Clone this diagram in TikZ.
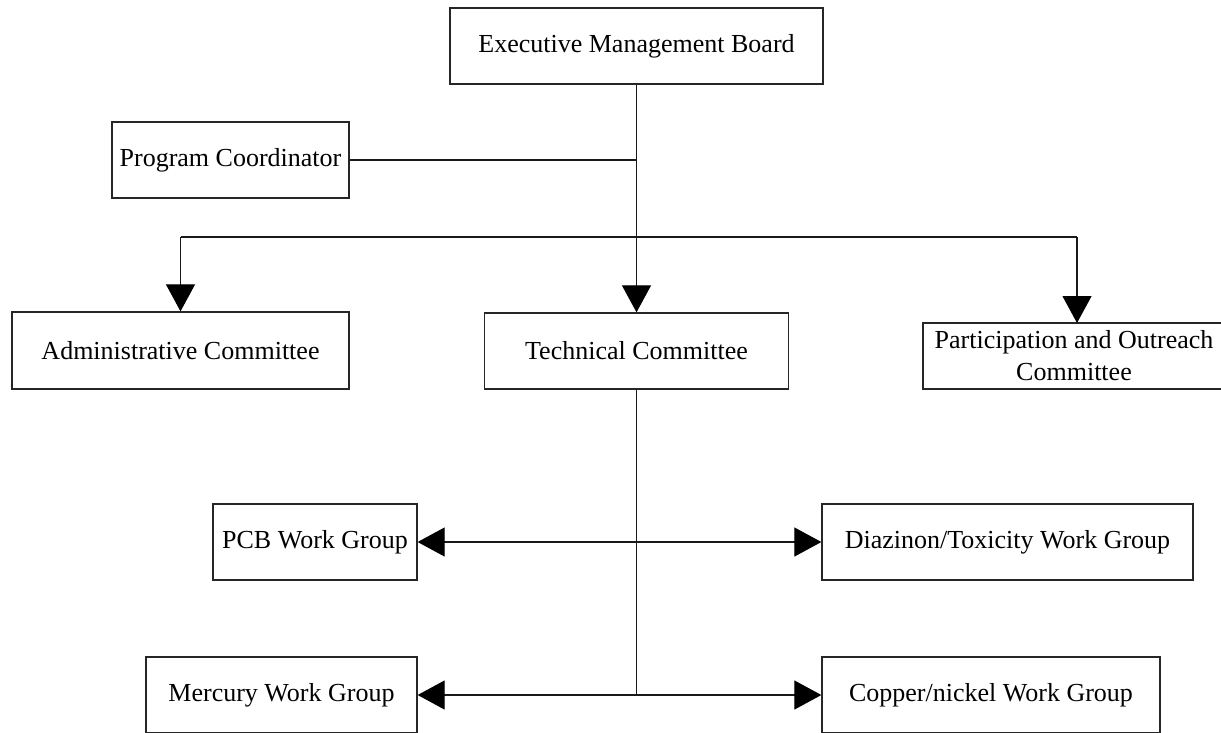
\documentclass[tikz,border=0pt]{standalone}
\usepackage{fontspec}
\setmainfont{Liberation Serif}
\usetikzlibrary{arrows.meta}
\tikzset{
  orgbox/.style={draw=black!85, line width=1.3pt, fill=white, inner sep=0pt, align=center,
    font=\fontsize{26}{32}\selectfont},
  link/.style={draw=black!90, line width=1.1pt},
  arr/.style={link, -{Triangle[length=27pt, width=29pt, fill=black, color=black]}},
}
\begin{document}
\begin{tikzpicture}[x=1pt, y=-1pt]
\useasboundingbox (0,0) rectangle (1221,732);
\clip (0,0) rectangle (1221,732);
\fill[white] (0,0) rectangle (1221,732);

\node[orgbox, minimum width=373pt, minimum height=76pt] (emb) at (636.5,46) {Executive Management Board};
\node[orgbox, minimum width=237pt, minimum height=76pt] (pc) at (230.5,160) {Program Coordinator};
\node[orgbox, minimum width=337pt, minimum height=77pt] (admin) at (180.5,350.5) {Administrative Committee};
\node[orgbox, minimum width=304pt, minimum height=76pt] (tech) at (636.5,351) {Technical Committee};
\node[orgbox, minimum width=302pt, minimum height=66pt] (part) at (1074,356) {Participation and Outreach\\Committee};
\node[orgbox, minimum width=204pt, minimum height=76pt] (pcb) at (315,542) {PCB Work Group};
\node[orgbox, minimum width=371pt, minimum height=76pt] (diaz) at (1007.5,542) {Diazinon/Toxicity Work Group};
\node[orgbox, minimum width=271pt, minimum height=76pt] (merc) at (281.5,695) {Mercury Work Group};
\node[orgbox, minimum width=338pt, minimum height=76pt] (copper) at (991,695) {Copper/nickel Work Group};

\coordinate (j) at (636.5,237);
\coordinate (partin) at (1077,323);

% top trunk
\draw[arr] (emb.south) -- (tech.north);
\draw[link] (pc.east) -- (pc.east -| emb.south);
\draw[link] (admin.north |- j) -- (partin |- j);
\draw[arr] (admin.north |- j) -- (admin.north);
\draw[arr] (partin |- j) -- (partin);

% technical committee trunk
\draw[link] (tech.south) -- (tech.south |- merc.east);
\draw[arr] (tech.south |- pcb.east) -- (pcb.east);
\draw[arr] (tech.south |- diaz.west) -- (diaz.west);
\draw[arr] (tech.south |- merc.east) -- (merc.east);
\draw[arr] (tech.south |- copper.west) -- (copper.west);
\end{tikzpicture}
\end{document}
